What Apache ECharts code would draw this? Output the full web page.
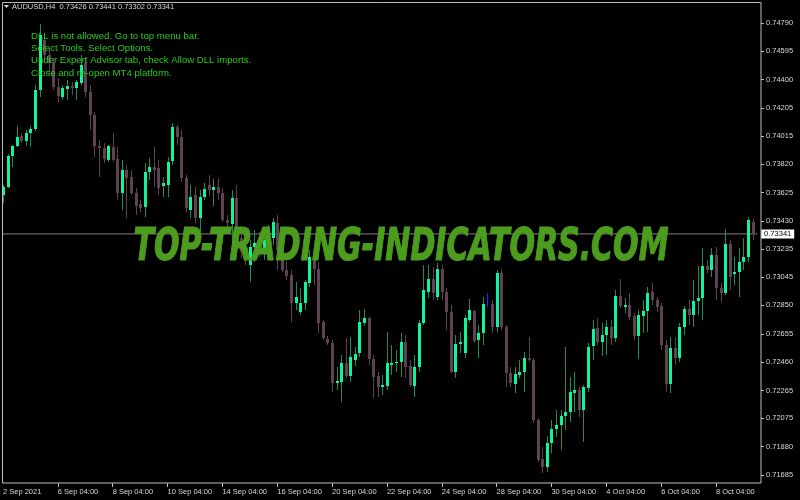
<!DOCTYPE html>
<html><head><meta charset="utf-8">
<script src="https://cdn.jsdelivr.net/npm/echarts@6/dist/echarts.min.js"></script>
<style>html,body{margin:0;padding:0;background:#000}#c{width:800px;height:500px}</style>
</head><body><div id="c"></div>
<script>
// ---------- data ----------
const headerText = 'AUDUSD,H4  0.73426 0.73441 0.73302 0.73341';
const currentPrice = 0.73341;
const firstLabel = '2 Sep 2021';
const tradingDays = ['2 Sep','3 Sep','6 Sep','7 Sep','8 Sep','9 Sep','10 Sep','13 Sep','14 Sep','15 Sep','16 Sep','17 Sep','20 Sep','21 Sep','22 Sep','23 Sep','24 Sep','27 Sep','28 Sep','29 Sep','30 Sep','1 Oct','4 Oct','5 Oct','6 Oct','7 Oct','8 Oct','11 Oct'];
const hours = ['00:00','04:00','08:00','12:00','16:00','20:00'];
const yTicks = [0.71685,0.71880,0.72075,0.72265,0.72460,0.72655,0.72850,0.73045,0.73235,0.73430,0.73625,0.73820,0.74015,0.74205,0.74400,0.74595,0.74790];
const commentLines = ['DLL is not allowed. Go to top menu bar.','Select Tools. Select Options.','Under Expert Advisor tab, check Allow DLL imports.','Close and re-open MT4 platform.'];
const watermark = 'TOP-TRADING-INDICATORS.COM';

const opens = [0.73609,0.73664,0.73876,0.73945,0.74014,0.73979,0.74034,0.74062,0.74330,0.74673,
0.74570,0.74515,0.74350,0.74282,0.74337,0.74357,0.74344,0.74378,0.74515,0.74316,
0.74158,0.73945,0.73931,0.73849,0.73938,0.73856,0.73622,0.73780,0.73732,0.73622,
0.73547,0.73526,0.73767,0.73801,0.73794,0.73670,0.73677,0.73842,0.74076,0.74007,
0.73725,0.73506,0.73609,0.73451,0.73595,0.73677,0.73643,0.73664,0.73622,0.73437,
0.73409,0.73588,0.73313,0.73217,0.73128,0.73251,0.73279,0.73244,0.73299,0.73313,
0.73416,0.73231,0.73093,0.73059,0.72867,0.72805,0.72867,0.73004,0.73162,0.73100,
0.72736,0.72619,0.72592,0.72317,0.72324,0.72455,0.72365,0.72475,0.72523,0.72729,
0.72764,0.72482,0.72365,0.72290,0.72297,0.72441,0.72455,0.72462,0.72599,0.72434,
0.72297,0.72427,0.72729,0.72942,0.73032,0.72908,0.73100,0.72942,0.72805,0.72393,
0.72585,0.72523,0.72750,0.72812,0.72612,0.72661,0.72887,0.72860,0.72702,0.73073,
0.72702,0.72386,0.72310,0.72372,0.72393,0.72489,0.72475,0.72063,0.71795,0.71740,
0.71905,0.72001,0.72029,0.72091,0.72118,0.72249,0.72269,0.72132,0.72283,0.72571,
0.72695,0.72599,0.72647,0.72702,0.72626,0.72915,0.72839,0.72853,0.72777,0.72640,
0.72777,0.72812,0.72942,0.72887,0.72846,0.72578,0.72310,0.72558,0.72489,0.72702,
0.72826,0.72784,0.72880,0.72901,0.73121,0.73093,0.73196,0.72970,0.72935,0.73272,
0.73066,0.73080,0.73148,0.73183,0.73426];
const highs = [0.73677,0.73890,0.73952,0.74083,0.74034,0.74055,0.74083,0.74364,0.74783,0.74721,
0.74618,0.74550,0.74412,0.74364,0.74399,0.74385,0.74399,0.74570,0.74556,0.74364,
0.74179,0.73986,0.73966,0.73952,0.74034,0.73938,0.73849,0.73815,0.73780,0.73657,
0.73574,0.73828,0.73863,0.73938,0.73849,0.73732,0.73870,0.74103,0.74089,0.74055,
0.73746,0.73677,0.73664,0.73643,0.73691,0.73746,0.73718,0.73725,0.73657,0.73471,
0.73643,0.73677,0.73334,0.73244,0.73299,0.73368,0.73354,0.73382,0.73402,0.73451,
0.73471,0.73299,0.73148,0.73093,0.73011,0.72970,0.73025,0.73231,0.73196,0.73148,
0.72750,0.72640,0.72612,0.72427,0.72509,0.72626,0.72633,0.72564,0.72819,0.72826,
0.72771,0.72509,0.72393,0.72372,0.72668,0.72578,0.72544,0.72661,0.72647,0.72475,
0.72509,0.72750,0.73128,0.73128,0.73114,0.73142,0.73128,0.72970,0.72853,0.72647,
0.72668,0.72784,0.72894,0.72819,0.72716,0.72908,0.72935,0.72887,0.73093,0.73100,
0.72716,0.72427,0.72427,0.72475,0.72530,0.72633,0.72489,0.72077,0.71878,0.71953,
0.72063,0.72132,0.72132,0.72564,0.72358,0.72393,0.72290,0.72303,0.72592,0.72750,
0.72764,0.72729,0.72750,0.72750,0.72956,0.73032,0.72901,0.72935,0.72798,0.72819,
0.72887,0.72977,0.73004,0.72908,0.72867,0.72612,0.72633,0.72633,0.72729,0.72846,
0.72887,0.73025,0.73121,0.73244,0.73162,0.73244,0.73251,0.73004,0.73375,0.73299,
0.73183,0.73244,0.73313,0.73457,0.73441];
const lows = [0.73554,0.73657,0.73801,0.73938,0.73966,0.73945,0.73938,0.74048,0.74282,0.74522,
0.74454,0.74330,0.74247,0.74261,0.74261,0.74295,0.74261,0.74364,0.74282,0.74055,
0.73870,0.73732,0.73828,0.73835,0.73835,0.73574,0.73506,0.73451,0.73609,0.73471,
0.73492,0.73457,0.73712,0.73664,0.73609,0.73595,0.73595,0.73815,0.73952,0.73698,
0.73492,0.73451,0.73416,0.73354,0.73574,0.73602,0.73533,0.73574,0.73423,0.73382,
0.73244,0.73286,0.73176,0.73128,0.73011,0.73148,0.73183,0.73162,0.73217,0.73265,
0.73093,0.73080,0.73025,0.72736,0.72819,0.72784,0.72819,0.72977,0.72990,0.72661,
0.72612,0.72578,0.72255,0.72269,0.72187,0.72352,0.72324,0.72434,0.72496,0.72709,
0.72441,0.72214,0.72221,0.72235,0.72269,0.72372,0.72393,0.72358,0.72352,0.72290,
0.72221,0.72393,0.72716,0.72901,0.72887,0.72887,0.72887,0.72681,0.72386,0.72352,
0.72523,0.72489,0.72736,0.72592,0.72489,0.72578,0.72839,0.72661,0.72668,0.72681,
0.72290,0.72290,0.72249,0.72352,0.72255,0.72462,0.72042,0.71775,0.71699,0.71706,
0.71836,0.71946,0.71857,0.71994,0.72049,0.72118,0.72084,0.71912,0.72255,0.72475,
0.72578,0.72503,0.72509,0.72578,0.72599,0.72832,0.72798,0.72750,0.72612,0.72482,
0.72661,0.72668,0.72853,0.72805,0.72544,0.72255,0.72249,0.72441,0.72462,0.72647,
0.72716,0.72702,0.72784,0.72750,0.73073,0.73045,0.72887,0.72874,0.72922,0.72956,
0.72990,0.72908,0.73093,0.73148,0.73302];
const closes = [0.73664,0.73876,0.73945,0.74007,0.73979,0.74034,0.74062,0.74330,0.74708,0.74570,
0.74515,0.74350,0.74289,0.74344,0.74357,0.74344,0.74385,0.74502,0.74316,0.74158,
0.73945,0.73931,0.73856,0.73945,0.73849,0.73622,0.73780,0.73725,0.73622,0.73533,
0.73519,0.73767,0.73801,0.73780,0.73657,0.73691,0.73835,0.74076,0.74007,0.73725,
0.73519,0.73595,0.73451,0.73595,0.73650,0.73643,0.73664,0.73622,0.73437,0.73416,
0.73588,0.73313,0.73217,0.73162,0.73251,0.73279,0.73251,0.73299,0.73348,0.73423,
0.73231,0.73093,0.73052,0.72867,0.72908,0.72867,0.73011,0.73183,0.73100,0.72729,
0.72626,0.72592,0.72317,0.72331,0.72455,0.72365,0.72496,0.72516,0.72736,0.72764,
0.72482,0.72358,0.72290,0.72303,0.72455,0.72455,0.72462,0.72599,0.72427,0.72303,
0.72427,0.72729,0.72956,0.73032,0.72935,0.73100,0.72942,0.72805,0.72393,0.72585,
0.72599,0.72764,0.72819,0.72606,0.72661,0.72860,0.72887,0.72702,0.73073,0.72702,
0.72386,0.72317,0.72379,0.72393,0.72489,0.72475,0.72063,0.71788,0.71740,0.71905,
0.72001,0.72029,0.72091,0.72118,0.72255,0.72269,0.72132,0.72290,0.72564,0.72688,
0.72599,0.72647,0.72702,0.72626,0.72915,0.72846,0.72853,0.72771,0.72640,0.72784,
0.72812,0.72935,0.72887,0.72839,0.72578,0.72310,0.72558,0.72489,0.72702,0.72826,
0.72784,0.72880,0.72901,0.73121,0.73093,0.73196,0.72970,0.72935,0.73272,0.73045,
0.73080,0.73148,0.73183,0.73437,0.73341];

// ---------- build ----------
const allSlots = [];
tradingDays.forEach(d => hours.forEach(h => allSlots.push(d + ' ' + h)));
const categories = allSlots.slice(1, 1 + opens.length).concat(['']);
const candleData = opens.map((o, i) => [i, o, closes[i], lows[i], highs[i]]);
const priceLineData = [[0, currentPrice], [categories.length - 1, currentPrice]];

const BULL = '#10f59c', BULL_WICK = '#1f8a5c', BEAR = '#5e4254', DOJI = '#1c2cff';
const FG = '#d8d8d8', FRAME = '#bdbdbd';
const SMALL = '7.5px "Liberation Sans"';

function renderCandle(params, api) {
  const i = api.value(0), o = api.value(1), c = api.value(2), l = api.value(3), h = api.value(4);
  const pO = api.coord([i, o]), pC = api.coord([i, c]), pL = api.coord([i, l]), pH = api.coord([i, h]);
  const x = Math.round(pO[0]);
  const doji = o === c, bull = c > o;
  const wick = doji ? DOJI : (bull ? BULL_WICK : BEAR);
  const body = doji ? DOJI : (bull ? BULL : BEAR);
  const yH = Math.round(pH[1]), yL = Math.round(pL[1]);
  const top = Math.round(Math.min(pO[1], pC[1])), bot = Math.round(Math.max(pO[1], pC[1]));
  const children = [{type: 'rect', shape: {x: x, y: yH, width: 1, height: Math.max(1, yL - yH)}, style: {fill: wick}}];
  if (!doji) children.push({type: 'rect', shape: {x: x - 1, y: top, width: 3, height: Math.max(1, bot - top)}, style: {fill: body}});
  return {type: 'group', children};
}

const ctx = document.createElement('canvas').getContext('2d');
const wmFont = 'italic bold 44px "DejaVu Sans"';
ctx.font = wmFont;
const wmScale = 535 / ctx.measureText(watermark).width;

const chart = echarts.init(document.getElementById('c'), null, {renderer: 'canvas'});
chart.setOption({
  backgroundColor: '#000',
  animation: false,
  grid: {left: 0.4, top: 2, width: 759, height: 481, containLabel: false},
  xAxis: {
    type: 'category', data: categories, boundaryGap: true,
    axisLine: {show: false}, splitLine: {show: false},
    axisTick: {show: true, alignWithLabel: true, length: 4, interval: (i) => i % 12 === 0 && i > 0, lineStyle: {color: FRAME}},
    axisLabel: {interval: (i) => i % 12 === 0, formatter: (v, i) => i === 0 ? firstLabel : v, align: 'left',
      color: FG, fontSize: 7.5, margin: 5, fontFamily: 'Liberation Sans'}
  },
  yAxis: {
    type: 'value', position: 'right', min: 0.71630, max: 0.74934, offset: 1.6,
    axisLine: {show: false}, splitLine: {show: false},
    axisTick: {show: true, customValues: yTicks, length: 3, lineStyle: {color: FRAME}},
    axisLabel: {customValues: yTicks, formatter: v => v.toFixed(5), color: FG, fontSize: 7.5, margin: 5, fontFamily: 'Liberation Sans'}
  },
  series: [
    {type: 'line', data: priceLineData, z: 1, symbol: 'none', showSymbol: false, silent: true,
      lineStyle: {color: '#8a7d83', width: 1},
      endLabel: {show: true, distance: 4, formatter: currentPrice.toFixed(5), color: '#000', backgroundColor: '#fff',
        padding: [1, 3, 0, 3], fontSize: 7.5, fontFamily: 'Liberation Sans'}},
    {type: 'custom', renderItem: renderCandle, data: candleData, encode: {x: 0, y: [1, 2, 3, 4]}, clip: true, z: 2}
  ],
  graphic: [
    {type: 'rect', shape: {x: 2.5, y: 2.5, width: 758.5, height: 480.5}, style: {fill: 'none', stroke: FRAME, lineWidth: 1}, silent: true, z: 50},
    {type: 'polygon', shape: {points: [[4, 5], [9, 5], [6.5, 8]]}, style: {fill: FG}, z: 60},
    {type: 'text', x: 12, y: 7, style: {text: headerText, fill: FG, font: SMALL, verticalAlign: 'middle'}, z: 60},
    ...commentLines.map((t, k) => ({type: 'text', x: 31, y: 36 + k * 12.4, style: {text: t, fill: '#26cc1c', font: '9.6px "Liberation Sans"', verticalAlign: 'middle'}, z: 60})),
    {type: 'text', x: 401, y: 249, scaleX: wmScale, style: {text: watermark, fill: '#4c9c1e', stroke: '#4c9c1e', lineWidth: 1.2, font: wmFont, align: 'center', verticalAlign: 'middle'}, z: 70}
  ]
});
</script></body></html>
